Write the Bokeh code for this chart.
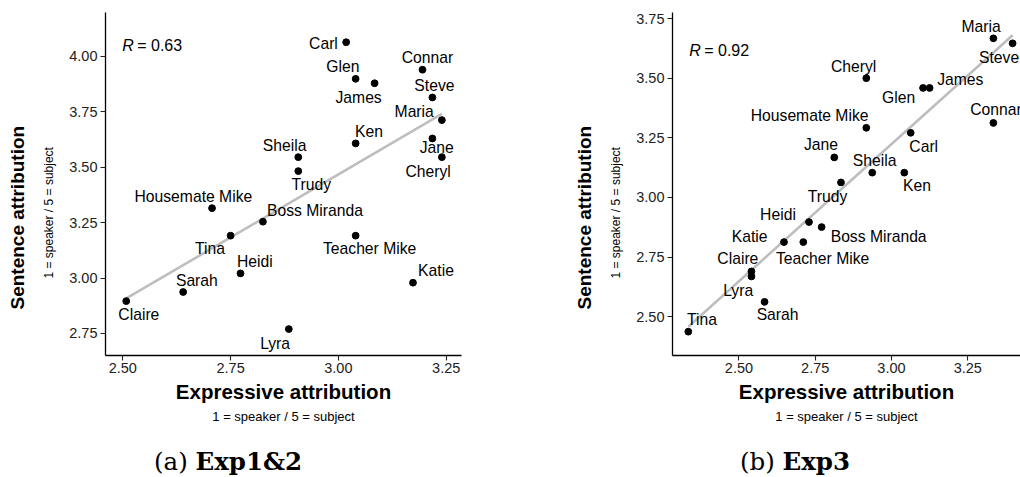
import numpy as np
from bokeh.plotting import figure
from bokeh.models import Range1d, FixedTicker, Label, ColumnDataSource, Title, Div
from bokeh.layouts import row, column
from bokeh.core.properties import value
from bokeh.embed import file_html
from bokeh.resources import INLINE

# ---------------- data ----------------
names_a = ["Carl", "Connar", "Glen", "James", "Steve", "Maria", "Ken", "Jane", "Cheryl",
           "Sheila", "Trudy", "Housemate Mike", "Boss Miranda", "Tina", "Teacher Mike",
           "Heidi", "Katie", "Sarah", "Claire", "Lyra"]
expr_a = [3.018, 3.195, 3.040, 3.084, 3.218, 3.240, 3.040, 3.218, 3.240,
          2.907, 2.907, 2.707, 2.825, 2.750, 3.040, 2.773, 3.173, 2.640, 2.508, 2.885]
sent_a = [4.063, 3.939, 3.898, 3.878, 3.814, 3.712, 3.607, 3.629, 3.545,
          3.545, 3.482, 3.315, 3.254, 3.191, 3.191, 3.021, 2.979, 2.937, 2.896, 2.770]
r_a = "0.63"

names_b = ["Maria", "Steve", "Cheryl", "Glen", "James", "Connar", "Housemate Mike", "Carl",
           "Jane", "Sheila", "Ken", "Trudy", "Heidi", "Boss Miranda", "Katie", "Teacher Mike",
           "Claire", "Lyra", "Sarah", "Tina"]
expr_b = [3.334, 3.397, 2.9175, 3.1035, 3.125, 3.334, 2.9175, 3.063, 2.8125, 2.937, 3.042,
          2.8345, 2.7296, 2.771, 2.6476, 2.711, 2.541, 2.541, 2.584, 2.334]
sent_b = [3.667, 3.646, 3.500, 3.459, 3.459, 3.3125, 3.292, 3.271, 3.168, 3.104, 3.104,
          3.063, 2.897, 2.876, 2.813, 2.813, 2.690, 2.669, 2.5625, 2.4375]
r_b = "0.92"

xticks = [2.50, 2.75, 3.00, 3.25]
xtick_labels = ["2.50", "2.75", "3.00", "3.25"]
yticks_a = [2.75, 3.00, 3.25, 3.50, 3.75, 4.00]
yticks_b = [2.50, 2.75, 3.00, 3.25, 3.50, 3.75]
ytick_labels_a = ["2.75", "3.00", "3.25", "3.50", "3.75", "4.00"]
ytick_labels_b = ["2.50", "2.75", "3.00", "3.25", "3.50", "3.75"]

x_title = "Expressive attribution"
y_title = "Sentence attribution"
subtitle = "1 = speaker / 5 = subject"
captions = [("(a)", "Exp1&amp;2"), ("(b)", "Exp3")]

# ---------------- layout (label nudges in px, +down) ----------------
nudge_a = [(-22.7, 1.6), (5, -12), (-12.7, -12.3), (-16, 14.3), (2, -12), (-27.7, -9),
           (13.3, -12.3), (4.3, 9.3), (-13.7, 14), (-13.7, -11.7), (13, 13.6),
           (-18.7, -11.7), (52, -11.3), (-20.7, 13), (14, 13), (14.3, -12.3),
           (23, -11.7), (13.7, -12), (12.6, 13.3), (-13.7, 14)]
nudge_b = [(-12.3, -12), (-13.5, 14.6), (-12.7, -12), (-24.4, 9.4), (30.7, -8.3),
           (2.6, -13.3), (-56.7, -12.3), (13, 13.4), (-13.3, -12.4), (2.3, -12),
           (12.7, 13.3), (-13.4, 14), (-31, -8), (57, 9.4), (-34.4, -6), (19.3, 16.6),
           (-13.6, -12.7), (-13.3, 14), (13, 13), (13.7, -11.7)]

FONT = "Liberation Sans"
SERIF = "DejaVu Serif"
FIG_H = 445
TOTAL_H = 477


def panel(names, xs, ys, nudges, rtext, xr, yr, yticks, ylabels, width, mbl, mbr, rpos):
    p = figure(width=width, height=FIG_H, x_range=Range1d(*xr), y_range=Range1d(*yr),
               output_backend="svg", toolbar_location=None,
               min_border_left=mbl, min_border_right=mbr, min_border_top=12,
               min_border_bottom=FIG_H - 12 - 343)
    p.outline_line_color = None
    p.xgrid.visible = False
    p.ygrid.visible = False
    p.background_fill_color = "white"
    p.border_fill_color = "white"

    for ax, ticks, labels, standoff in ((p.xaxis[0], xticks, xtick_labels, 2),
                                        (p.yaxis[0], yticks, ylabels, 3)):
        ax.ticker = FixedTicker(ticks=ticks)
        ax.major_label_overrides = {t: l for t, l in zip(ticks, labels)}
        ax.axis_line_color = "black"
        ax.axis_line_width = 1.3
        ax.major_tick_line_color = "#222222"
        ax.major_tick_line_width = 1.1
        ax.major_tick_out = 5
        ax.major_tick_in = 0
        ax.minor_tick_line_color = None
        ax.major_label_text_font = FONT
        ax.major_label_text_font_size = "14.5px"
        ax.major_label_text_color = "#222222"
        ax.major_label_standoff = standoff

    # regression line
    k, b = np.polyfit(xs, ys, 1)
    lx = np.array([min(xs), max(xs)])
    p.line(lx, k * lx + b, line_color="#BEBEBE", line_width=2.6)

    src = ColumnDataSource(dict(x=xs, y=ys, name=names,
                                dx=[n[0] for n in nudges], dy=[n[1] for n in nudges]))
    p.scatter("x", "y", source=src, size=6.8, color="black")
    p.text("x", "y", text="name", source=src, x_offset="dx", y_offset="dy",
           text_align="center", text_baseline="middle", text_font=value(FONT),
           text_font_size="15.7px", text_color="black")

    # R annotation
    p.add_layout(Label(x=rpos[0], y=rpos[1], text="R", text_font=FONT,
                       text_font_style="italic", text_font_size="16px", text_color="black",
                       text_baseline="middle", text_align="left"))
    p.add_layout(Label(x=rpos[0], y=rpos[1], x_offset=15, text="= " + rtext,
                       text_font=FONT, text_font_size="16px", text_color="black",
                       text_baseline="middle", text_align="left"))

    # x axis title + subtitle (below)
    p.add_layout(Title(text=x_title, align="center", text_font=FONT,
                       text_font_style="bold", text_font_size="20.5px",
                       text_color="black", standoff=4), "below")
    p.add_layout(Title(text=subtitle, align="center", text_font=FONT,
                       text_font_style="normal", text_font_size="13px",
                       text_color="black", standoff=4), "below")
    # y axis subtitle + title (left, outward)
    p.add_layout(Title(text=subtitle, align="left", offset=77, text_font=FONT,
                       text_font_style="normal", text_font_size="12px",
                       text_color="black", standoff=21), "left")
    p.add_layout(Title(text=y_title, align="left", offset=46, text_font=FONT,
                       text_font_style="bold", text_font_size="19px",
                       text_color="black", standoff=4), "left")
    return p


def caption(cap, width, pad):
    html = ('<div style="font-family:\'%s\';font-size:24.5px;line-height:26px;'
            'padding-top:4px;padding-left:%dpx;color:black;white-space:nowrap">%s <b>%s</b></div>'
            % (SERIF, pad, cap[0], cap[1]))
    return Div(text=html, width=width, height=TOTAL_H - FIG_H, margin=0)


pa = panel(names_a, expr_a, sent_a, nudge_a, r_a, (2.4599, 3.2855), (2.6508, 4.197),
           yticks_a, ytick_labels_a, 548, 105, 87, (2.4986, 4.048))
pb = panel(names_b, expr_b, sent_b, nudge_b, r_b, (2.2822, 3.4229), (2.3377, 3.7752),
           yticks_b, ytick_labels_b, 472, 124, 0, (2.337, 3.616))

layout = column(row(pa, pb), row(caption(captions[0], 548, 154), caption(captions[1], 472, 192)))
open("out.html", "w").write(file_html(layout, INLINE))
